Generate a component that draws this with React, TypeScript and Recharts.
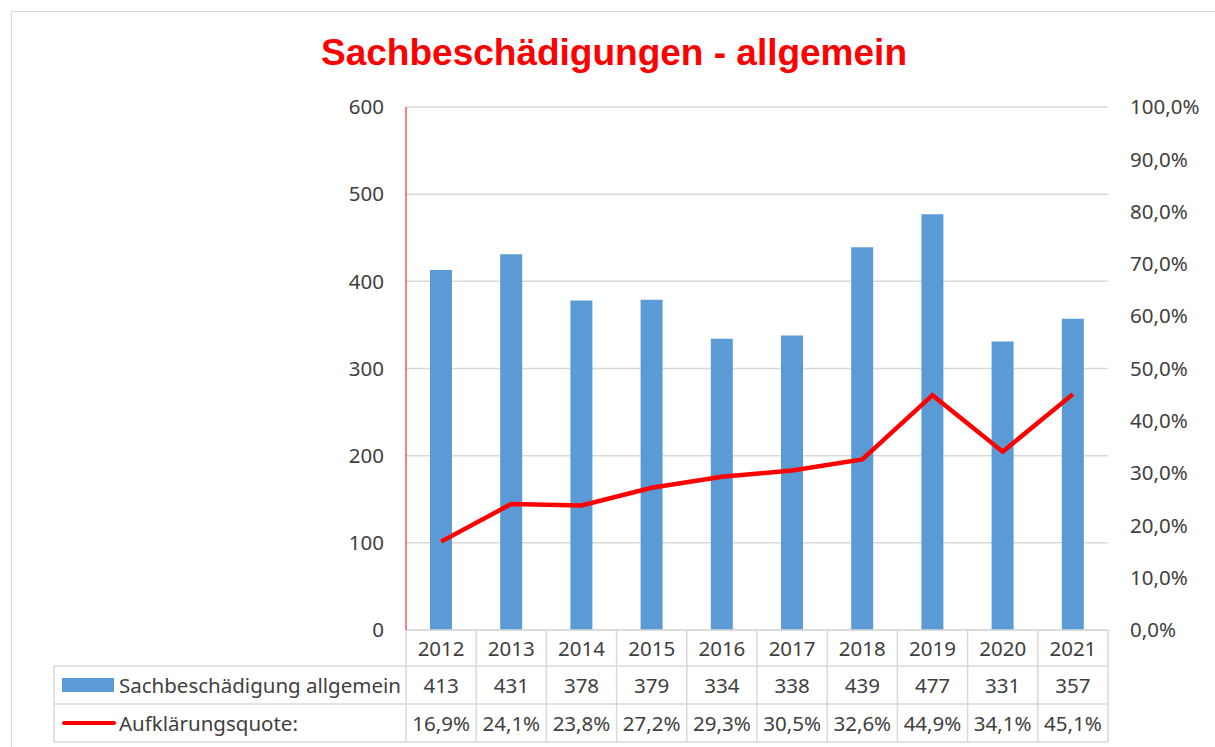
import React from 'react';
import { ComposedChart, Bar, Line, XAxis, YAxis, CartesianGrid } from 'recharts';

// Sachbeschädigungen allgemein, 2012 - 2021
const years = ['2012', '2013', '2014', '2015', '2016', '2017', '2018', '2019', '2020', '2021'];
const cases = [413, 431, 378, 379, 334, 338, 439, 477, 331, 357];
const rates = [16.9, 24.1, 23.8, 27.2, 29.3, 30.5, 32.6, 44.9, 34.1, 45.1];
const leftTicks = [0, 100, 200, 300, 400, 500, 600];
const rightTicks = [0, 10, 20, 30, 40, 50, 60, 70, 80, 90, 100];

const data = years.map((year, i) => ({ year, cases: cases[i], rate: rates[i] }));

const W = 1215;
const H = 747;
const PLOT_LEFT = 406;
const PLOT_RIGHT = 1108;
const PLOT_TOP = 107;
const PLOT_BOTTOM = 630;
const CELL_W = (PLOT_RIGHT - PLOT_LEFT) / years.length;
const ROW_LINES = [666, 704, 742];
const TABLE_LEFT = 54;

const GRID = '#d9d9d9';
const TEXT = '#404040';
const BLUE = '#5B9BD5';
const RED = '#FF0000';
const FONT = '"Noto Sans", sans-serif';
const FS = 20.5;

const pct = (v: number) => v.toFixed(1).replace('.', ',') + '%';

function TableTick(props: any) {
    const { x, payload, index } = props;
    const i = years.indexOf(payload.value);
    const textProps = {
        fill: TEXT,
        fontSize: FS,
        fontFamily: FONT,
        textAnchor: 'middle' as const,
        dominantBaseline: 'central' as const,
    };
    return (
        <g>
            {index === 0 && (
                <g>
                    {/* table frame + legend column */}
                    {ROW_LINES.map((ly, k) => (
                        <line key={k} x1={TABLE_LEFT} x2={PLOT_RIGHT} y1={ly} y2={ly} stroke={GRID} strokeWidth={1.5} />
                    ))}
                    <line x1={TABLE_LEFT} x2={TABLE_LEFT} y1={ROW_LINES[0]} y2={ROW_LINES[2]} stroke={GRID} strokeWidth={1.5} />
                    <line x1={PLOT_LEFT} x2={PLOT_LEFT} y1={PLOT_BOTTOM} y2={ROW_LINES[2]} stroke={GRID} strokeWidth={1.5} />
                    <rect x={62} y={678} width={52} height={14} fill={BLUE} />
                    <line x1={64} x2={114} y1={723} y2={723} stroke={RED} strokeWidth={4} strokeLinecap="round" />
                    <text x={119} y={685} fill={TEXT} fontSize={FS} fontFamily={FONT} dominantBaseline="central">
                        Sachbeschädigung allgemein
                    </text>
                    <text x={119} y={723} fill={TEXT} fontSize={FS} fontFamily={FONT} dominantBaseline="central">
                        Aufklärungsquote:
                    </text>
                </g>
            )}
            <line x1={x + CELL_W / 2} x2={x + CELL_W / 2} y1={PLOT_BOTTOM} y2={ROW_LINES[2]} stroke={GRID} strokeWidth={1.5} />
            <text x={x} y={648} {...textProps}>{payload.value}</text>
            <text x={x} y={685} {...textProps}>{cases[i]}</text>
            <text x={x} y={723} {...textProps}>{pct(rates[i])}</text>
        </g>
    );
}

export default function App() {
    return (
        <div style={{ position: 'absolute', left: 0, top: 0, width: W, height: H, overflow: 'hidden', background: '#fff' }}>
            <div style={{ position: 'absolute', left: 11, top: 11, width: W, height: H, border: `1px solid ${GRID}` }} />
            <div
                style={{
                    position: 'absolute', left: 0, top: 32, width: 1228, lineHeight: '42px', textAlign: 'center',
                    fontFamily: '"Liberation Sans", Arial, sans-serif', fontWeight: 'bold', fontSize: 37, color: RED,
                }}
            >
                Sachbeschädigungen - allgemein
            </div>
            <div style={{ position: 'absolute', left: 0, top: 0 }}>
                <ComposedChart
                    width={W}
                    height={H}
                    data={data}
                    margin={{ top: PLOT_TOP, right: W - PLOT_RIGHT - 100, bottom: 0, left: PLOT_LEFT - 60 }}
                    barCategoryGap={0}
                >
                    <CartesianGrid vertical={false} stroke={GRID} strokeWidth={1.5} yAxisId="left" />
                    <XAxis
                        dataKey="year"
                        height={H - PLOT_BOTTOM}
                        interval={0}
                        tickLine={false}
                        axisLine={{ stroke: GRID, strokeWidth: 1.5 }}
                        tick={<TableTick />}
                    />
                    <YAxis
                        yAxisId="left"
                        width={60}
                        domain={[0, 600]}
                        ticks={leftTicks}
                        tickLine={false}
                        axisLine={{ stroke: RED, strokeWidth: 1 }}
                        tickSize={0}
                        tickMargin={22}
                        tick={{ fill: TEXT, fontSize: FS, fontFamily: FONT }}
                    />
                    <YAxis
                        yAxisId="right"
                        orientation="right"
                        width={100}
                        domain={[0, 100]}
                        ticks={rightTicks}
                        tickFormatter={pct}
                        tickLine={false}
                        axisLine={false}
                        tickSize={0}
                        tickMargin={22}
                        tick={{ fill: TEXT, fontSize: FS, fontFamily: FONT, textAnchor: 'start' }}
                    />
                    <Bar yAxisId="left" dataKey="cases" fill={BLUE} barSize={22} isAnimationActive={false} />
                    <Line
                        yAxisId="right"
                        type="linear"
                        dataKey="rate"
                        stroke={RED}
                        strokeWidth={4.5}
                        dot={false}
                        isAnimationActive={false}
                    />
                </ComposedChart>
            </div>
        </div>
    );
}
